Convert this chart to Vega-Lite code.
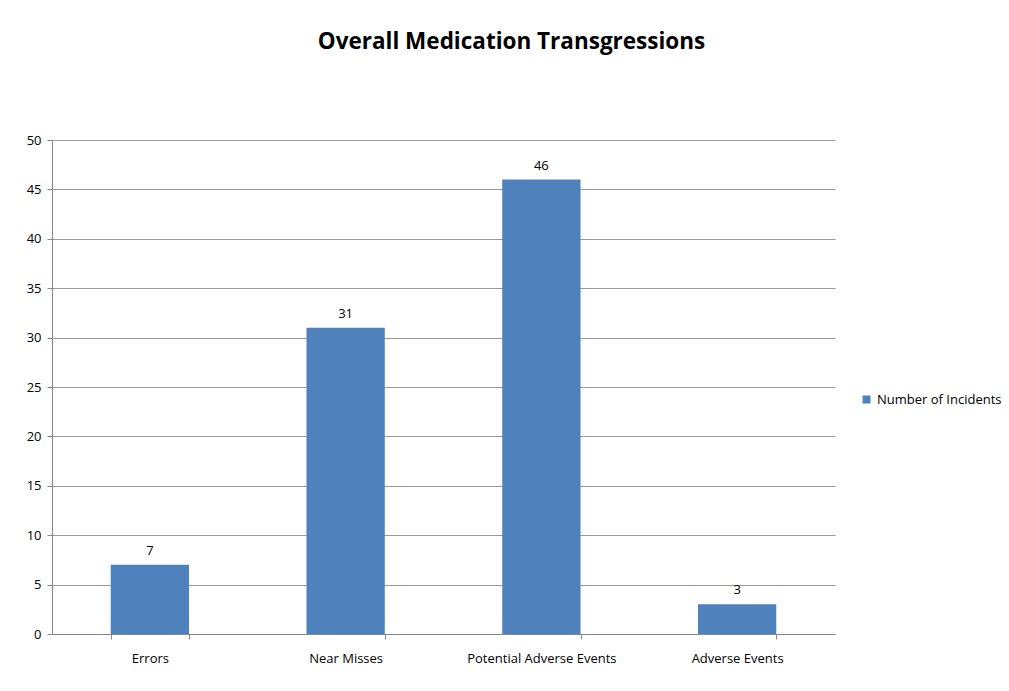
{
  "$schema": "https://vega.github.io/schema/vega-lite/v6.json",
  "autosize": "none",
  "width": 783,
  "height": 494,
  "padding": {"left": 52, "top": 140, "right": 174, "bottom": 57},
  "background": "white",
  "title": {
    "text": "Overall Medication Transgressions",
    "font": "Open Sans",
    "fontSize": 22.5,
    "fontWeight": "bold",
    "color": "#000000",
    "anchor": "middle",
    "dx": 68,
    "offset": 81
  },
  "data": {
    "values": [
      {"category": "Errors", "count": 7, "series": "Number of Incidents"},
      {"category": "Near Misses", "count": 31, "series": "Number of Incidents"},
      {"category": "Potential Adverse Events", "count": 46, "series": "Number of Incidents"},
      {"category": "Adverse Events", "count": 3, "series": "Number of Incidents"}
    ]
  },
  "encoding": {
    "x": {
      "field": "category",
      "type": "nominal",
      "sort": null,
      "scale": {"paddingInner": 0.6, "paddingOuter": 0.3},
      "axis": {
        "title": null,
        "labelAngle": 0,
        "labelFont": "Open Sans",
        "labelFontSize": 13,
        "labelColor": "#000000",
        "labelPadding": 13,
        "domainColor": "#868686",
        "tickColor": "#868686",
        "tickSize": 5,
        "ticks": true,
        "tickBand": "extent",
        "grid": false
      }
    },
    "y": {
      "field": "count",
      "type": "quantitative",
      "scale": {"domain": [0, 50]},
      "axis": {
        "title": null,
        "values": [0, 5, 10, 15, 20, 25, 30, 35, 40, 45, 50],
        "labelFont": "Open Sans",
        "labelFontSize": 13,
        "labelColor": "#000000",
        "labelPadding": 6,
        "domainColor": "#868686",
        "tickColor": "#868686",
        "tickSize": 5,
        "gridColor": "#9a9a9a",
        "gridWidth": 1
      }
    }
  },
  "layer": [
    {
      "mark": {"type": "bar"},
      "encoding": {
        "color": {
          "field": "series",
          "type": "nominal",
          "scale": {"range": ["#4F81BD"]},
          "legend": {
            "title": null,
            "orient": "none",
            "legendX": 808,
            "legendY": 253,
            "symbolType": "square",
            "symbolSize": 64,
            "labelFont": "Open Sans",
            "labelFontSize": 13,
            "labelColor": "#000000"
          }
        }
      }
    },
    {
      "mark": {"type": "text", "dy": -14, "font": "Open Sans", "fontSize": 13, "color": "#000000"},
      "encoding": {"text": {"field": "count", "type": "quantitative"}}
    }
  ],
  "config": {"view": {"stroke": null}}
}
